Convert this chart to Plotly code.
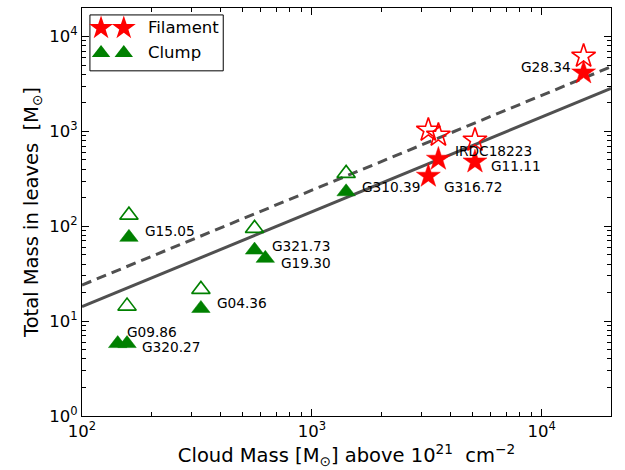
import math
import plotly.graph_objects as go

# ---- data ----
fil_names = ["G28.34", "IRDC18223", "G11.11", "G316.72"]
fil_cloud = [15200, 3550, 5120, 3210]
fil_leaves = [4150, 511, 478, 338]
fil_leaves_open = [6220, 914, 810, 1032]

clump_names = ["G15.05", "G09.86", "G320.27", "G04.36", "G321.73", "G19.30", "G310.39"]
clump_cloud = [160, 143, 157, 329, 563, 627, 1409]
clump_leaves = [76.4, 5.8, 5.8, 13.6, 56.1, 45.9, 231]
clump_leaves_open = [131, None, 14.4, 21.6, 95, None, 361]

fit_x = [100, 20000]
solid_coef = 0.142
dashed_coef = 0.24

x_ticks = [1e2, 1e3, 1e4]
x_ticktext = ["10<sup>2</sup>", "10<sup>3</sup>", "10<sup>4</sup>"]
y_ticks = [1e0, 1e1, 1e2, 1e3, 1e4]
y_ticktext = ["10<sup>0</sup>", "10<sup>1</sup>", "10<sup>2</sup>", "10<sup>3</sup>", "10<sup>4</sup>"]

# label offsets (pixels) : (xshift, yshift, xanchor)
fil_label_style = [(-11, 6, "right"), (15, 8, "left"), (14, -4, "left"), (14, -11, "left")]
clump_label_style = [(14, 6, "left"), (7, 12, "left"), (13, -3, "left"), (14, 5, "left"),
                     (15, 4, "left"), (14, -5, "left"), (14, 5, "left")]

FONT = "DejaVu Sans"
GRAY = "#505050"
RED = "#ff0000"
GREEN = "#008000"
STAR_SIZE = 18
TRI_SIZE = 16

fig = go.Figure()

fig.add_trace(go.Scatter(x=fit_x, y=[solid_coef * v for v in fit_x], mode="lines",
                         line=dict(color=GRAY, width=3), showlegend=False, hoverinfo="skip"))
fig.add_trace(go.Scatter(x=fit_x, y=[dashed_coef * v for v in fit_x], mode="lines",
                         line=dict(color=GRAY, width=3, dash="10px,6px"), showlegend=False,
                         hoverinfo="skip"))

fig.add_trace(go.Scatter(x=clump_cloud, y=clump_leaves_open, mode="markers",
                         marker=dict(symbol="triangle-up-open", size=TRI_SIZE, color=GREEN,
                                     line=dict(width=1.6, color=GREEN)), showlegend=False))
fig.add_trace(go.Scatter(x=clump_cloud, y=clump_leaves, mode="markers",
                         marker=dict(symbol="triangle-up", size=TRI_SIZE, color=GREEN,
                                     line=dict(width=0.5, color=GREEN)), showlegend=False))
fig.add_trace(go.Scatter(x=fil_cloud, y=fil_leaves_open, mode="markers",
                         marker=dict(symbol="star-open", size=STAR_SIZE, color=RED,
                                     line=dict(width=1.6, color=RED)), showlegend=False))
fig.add_trace(go.Scatter(x=fil_cloud, y=fil_leaves, mode="markers",
                         marker=dict(symbol="star", size=STAR_SIZE, color=RED,
                                     line=dict(width=0.5, color=RED)), showlegend=False))

LABEL_FONT = dict(family=FONT, size=13.7, color="black")
for name, xv, yv, (dx, dy, anc) in zip(fil_names, fil_cloud, fil_leaves, fil_label_style):
    fig.add_annotation(x=math.log10(xv), y=math.log10(yv), xref="x", yref="y", text=name,
                       showarrow=False, xanchor=anc, yanchor="middle", xshift=dx, yshift=dy,
                       font=LABEL_FONT)
for name, xv, yv, (dx, dy, anc) in zip(clump_names, clump_cloud, clump_leaves, clump_label_style):
    fig.add_annotation(x=math.log10(xv), y=math.log10(yv), xref="x", yref="y", text=name,
                       showarrow=False, xanchor=anc, yanchor="middle", xshift=dx, yshift=dy,
                       font=LABEL_FONT)

# ---- custom legend (two markers per entry, like matplotlib) ----
fig.add_shape(type="rect", xref="paper", yref="paper", x0=0.015, x1=0.267, y0=0.846, y1=0.983,
              line=dict(color="black", width=1), fillcolor="white", layer="below")
fig.add_trace(go.Scatter(x=[0.036, 0.079], y=[0.951, 0.951], xaxis="x2", yaxis="y2",
                         mode="markers", marker=dict(symbol="star", size=STAR_SIZE, color=RED),
                         showlegend=False, hoverinfo="skip"))
fig.add_trace(go.Scatter(x=[0.036, 0.079], y=[0.890, 0.890], xaxis="x2", yaxis="y2",
                         mode="markers", marker=dict(symbol="triangle-up", size=TRI_SIZE, color=GREEN),
                         showlegend=False, hoverinfo="skip"))
LEG_FONT = dict(family=FONT, size=16.5, color="black")
fig.add_annotation(x=0.121, y=0.951, xref="paper", yref="paper", text="Filament",
                   showarrow=False, xanchor="left", yanchor="middle", font=LEG_FONT)
fig.add_annotation(x=0.121, y=0.890, xref="paper", yref="paper", text="Clump",
                   showarrow=False, xanchor="left", yanchor="middle", font=LEG_FONT)

minor_x = [m * 10 ** e for e in (2, 3, 4) for m in range(2, 10) if m * 10 ** e < 2e4]
minor_y = [m * 10 ** e for e in (0, 1, 2, 3, 4) for m in range(2, 10) if m * 10 ** e < 2e4]

axis_common = dict(showline=True, linecolor="black", linewidth=1, mirror="allticks",
                   ticks="inside", ticklen=7, tickwidth=1, tickcolor="black",
                   showgrid=False, zeroline=False,
                   tickfont=dict(family=FONT, size=16.5, color="black"))

TITLE_FONT = dict(family=FONT, size=19.5, color="black")
fig.update_layout(
    width=625, height=470,
    margin=dict(l=82, r=14, t=8, b=54),
    plot_bgcolor="white", paper_bgcolor="white",
    xaxis=dict(type="log", range=[2, 4.30103], tickmode="array", tickvals=x_ticks,
               ticktext=x_ticktext,
               minor=dict(tickmode="array", tickvals=minor_x, ticks="inside", ticklen=4,
                          tickcolor="black", tickwidth=1),
               title=dict(text="Cloud Mass [M<sub>\u2299</sub>] above 10<sup>21</sup>  cm<sup>\u22122</sup>",
                          font=TITLE_FONT, standoff=1),
               **axis_common),
    yaxis=dict(type="log", range=[0, 4.30103], tickmode="array", tickvals=y_ticks,
               ticktext=y_ticktext,
               minor=dict(tickmode="array", tickvals=minor_y, ticks="inside", ticklen=4,
                          tickcolor="black", tickwidth=1),
               title=dict(text="Total Mass in leaves  [M<sub>\u2299</sub>]",
                          font=TITLE_FONT, standoff=5),
               **axis_common),
    xaxis2=dict(overlaying="x", range=[0, 1], visible=False, domain=[0, 1]),
    yaxis2=dict(overlaying="y", range=[0, 1], visible=False),
    showlegend=False,
)

fig.write_html("out.html")
